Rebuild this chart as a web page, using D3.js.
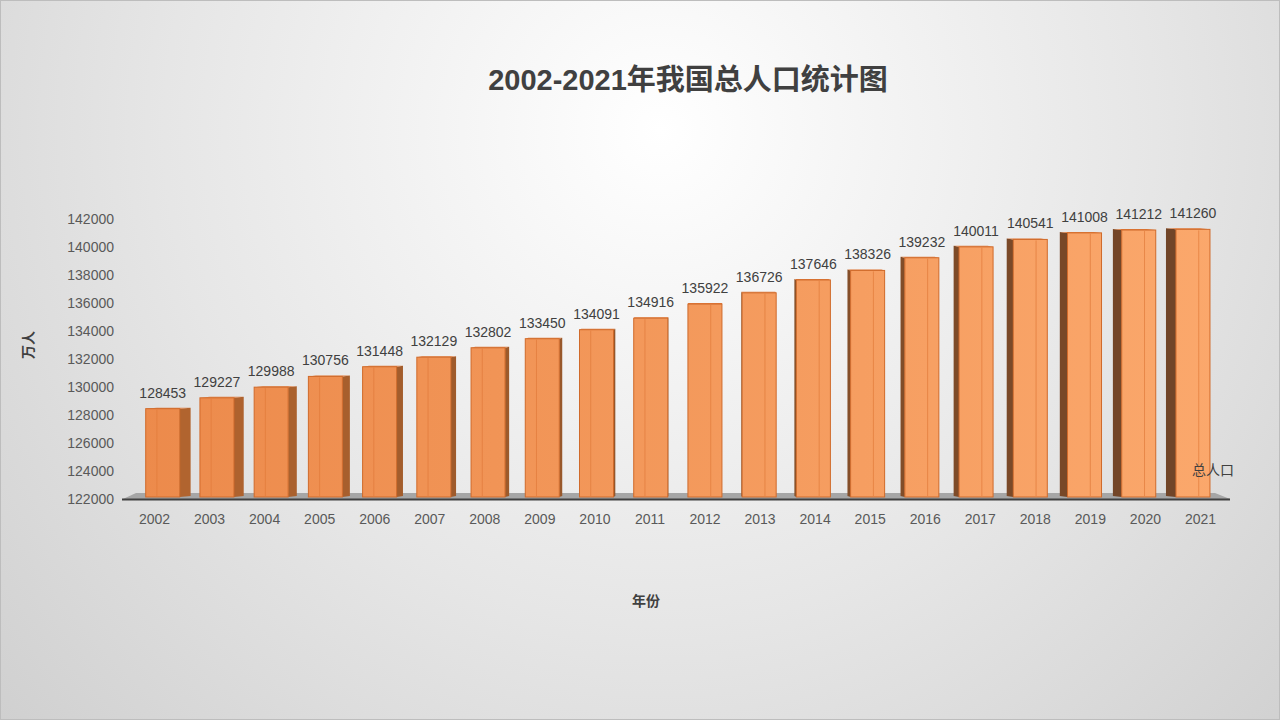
<!DOCTYPE html>
<html>
<head>
<meta charset="utf-8">
<script src="https://cdn.jsdelivr.net/npm/d3@7"></script>
<style>
  html, body { margin: 0; padding: 0; }
  body { width: 1280px; height: 720px; overflow: hidden; }
  svg { display: block; font-family: "Liberation Sans", "Noto Sans CJK SC", sans-serif; }
</style>
</head>
<body>
<svg id="chart"></svg>
<script>
// chart data
var years = ["2002","2003","2004","2005","2006","2007","2008","2009","2010","2011",
             "2012","2013","2014","2015","2016","2017","2018","2019","2020","2021"];
var population = [128453,129227,129988,130756,131448,132129,132802,133450,134091,134916,
                  135922,136726,137646,138326,139232,140011,140541,141008,141212,141260];
var yTicks = [122000,124000,126000,128000,130000,132000,134000,136000,138000,140000,142000];

var W = 1280, H = 720;
var plot = {left: 127, right: 1228, top: 219, bottom: 499};
var FONT = "'Liberation Sans', 'Noto Sans CJK SC', sans-serif";

var svg = d3.select("#chart").attr("width", W).attr("height", H);
var defs = svg.append("defs");

// background
var bg = defs.append("radialGradient").attr("id", "bg")
    .attr("gradientUnits", "userSpaceOnUse")
    .attr("cx", 660).attr("cy", 130).attr("r", 900);
bg.append("stop").attr("offset", "0").attr("stop-color", "#ffffff");
bg.append("stop").attr("offset", "0.55").attr("stop-color", "#e6e6e6");
bg.append("stop").attr("offset", "1").attr("stop-color", "#cfcfcf");

svg.append("rect").attr("x", 0.5).attr("y", 0.5).attr("width", W - 1).attr("height", H - 1)
    .attr("fill", "url(#bg)").attr("stroke", "#bdbdbd");

// front face colour goes light to the right
var frontGrad = defs.append("linearGradient").attr("id", "front")
    .attr("gradientUnits", "userSpaceOnUse")
    .attr("x1", plot.left).attr("y1", 0).attr("x2", plot.right).attr("y2", 0);
frontGrad.append("stop").attr("offset", "0").attr("stop-color", "#ec8a4b");
frontGrad.append("stop").attr("offset", "1").attr("stop-color", "#fba86c");

var x = d3.scaleBand().domain(years).range([plot.left, plot.right]).padding(0);
var y = d3.scaleLinear().domain([122000, 142000]).range([plot.bottom, plot.top]);

var V = 700;          // vanishing x
var halfW = 17;
var sideColor = d3.scaleLinear().domain([plot.left, V, plot.right])
    .range(["#b3652f", "#8e5329", "#6f4428"]);

// floor
var floor = svg.append("g");
floor.append("path")
    .attr("d", "M" + (plot.left - 4) + "," + plot.bottom + "L" + (plot.left + 9) + "," + (plot.bottom - 6) +
               "L" + (plot.right - 13) + "," + (plot.bottom - 6) + "L" + (plot.right + 2) + "," + plot.bottom + "Z")
    .attr("fill", "#a6a6a6");
floor.append("line")
    .attr("x1", plot.left - 5).attr("x2", plot.right + 2)
    .attr("y1", plot.bottom + 0.5).attr("y2", plot.bottom + 0.5)
    .attr("stroke", "#404040").attr("stroke-width", 2);

// bars
var bars = svg.append("g").selectAll("g").data(years).enter().append("g");

bars.each(function(yr, i) {
  var g = d3.select(this);
  var c = x(yr) + x.bandwidth() / 2;
  var fc = c + (V - c) * 0.015;
  var x0 = fc - halfW, x1 = fc + halfW;
  var top = y(population[i]), bot = plot.bottom - 2;
  var edge = c < V ? x1 : x0;
  var d = (V - edge) * 0.021;

  // side face
  g.append("path")
      .attr("d", "M" + edge + "," + top + "L" + (edge + d) + "," + (top - 1) +
                 "L" + (edge + d) + "," + (bot - 1) + "L" + edge + "," + bot + "Z")
      .attr("fill", sideColor(c));
  // top face
  g.append("path")
      .attr("d", "M" + x0 + "," + top + "L" + (x0 + d) + "," + (top - 1) +
                 "L" + (x1 + d) + "," + (top - 1) + "L" + x1 + "," + top + "Z")
      .attr("fill", "#e07a3a");
  // front face
  g.append("rect")
      .attr("x", x0).attr("y", top).attr("width", x1 - x0).attr("height", bot - top)
      .attr("fill", "url(#front)").attr("stroke", "#d06a2a").attr("stroke-width", 1);
  // inner edge line
  var lx = c < V ? x0 + (x1 - x0) * 0.33 : x1 - (x1 - x0) * 0.33;
  g.append("line")
      .attr("x1", lx).attr("x2", lx).attr("y1", top + 1).attr("y2", bot - 1)
      .attr("stroke", "#e27b3b").attr("stroke-width", 1).attr("opacity", 0.7);

  // value label
  g.append("text")
      .attr("x", fc).attr("y", top - 11)
      .attr("text-anchor", "middle")
      .attr("font-size", 14).attr("fill", "#404040")
      .text(population[i]);
});

// y axis labels
var yAxis = d3.axisLeft(y).tickValues(yTicks).tickFormat(d3.format("d")).tickSize(0).tickPadding(0);
var yg = svg.append("g").attr("transform", "translate(114,0)").call(yAxis);
yg.select(".domain").remove();
yg.selectAll("text").attr("font-size", 14).attr("fill", "#595959").attr("font-family", FONT);

// x axis labels
var xAxis = d3.axisBottom(x).tickSize(0).tickPadding(0);
var xg = svg.append("g").attr("transform", "translate(0,514)").call(xAxis);
xg.select(".domain").remove();
xg.selectAll("text").attr("font-size", 14).attr("fill", "#595959").attr("font-family", FONT);

// titles
svg.append("text").attr("x", 688).attr("y", 90).attr("text-anchor", "middle")
    .attr("font-size", 29).attr("font-weight", "bold").attr("fill", "#404040")
    .text("2002-2021年我国总人口统计图");

svg.append("text").attr("transform", "translate(33,345) rotate(-90)")
    .attr("text-anchor", "middle").attr("font-size", 14).attr("font-weight", "bold").attr("fill", "#404040")
    .text("万人");

svg.append("text").attr("x", 646).attr("y", 606).attr("text-anchor", "middle")
    .attr("font-size", 14).attr("font-weight", "bold").attr("fill", "#404040")
    .text("年份");

// legend
svg.append("text").attr("x", 1192).attr("y", 475)
    .attr("font-size", 14).attr("fill", "#404040")
    .text("总人口");
</script>
</body>
</html>
